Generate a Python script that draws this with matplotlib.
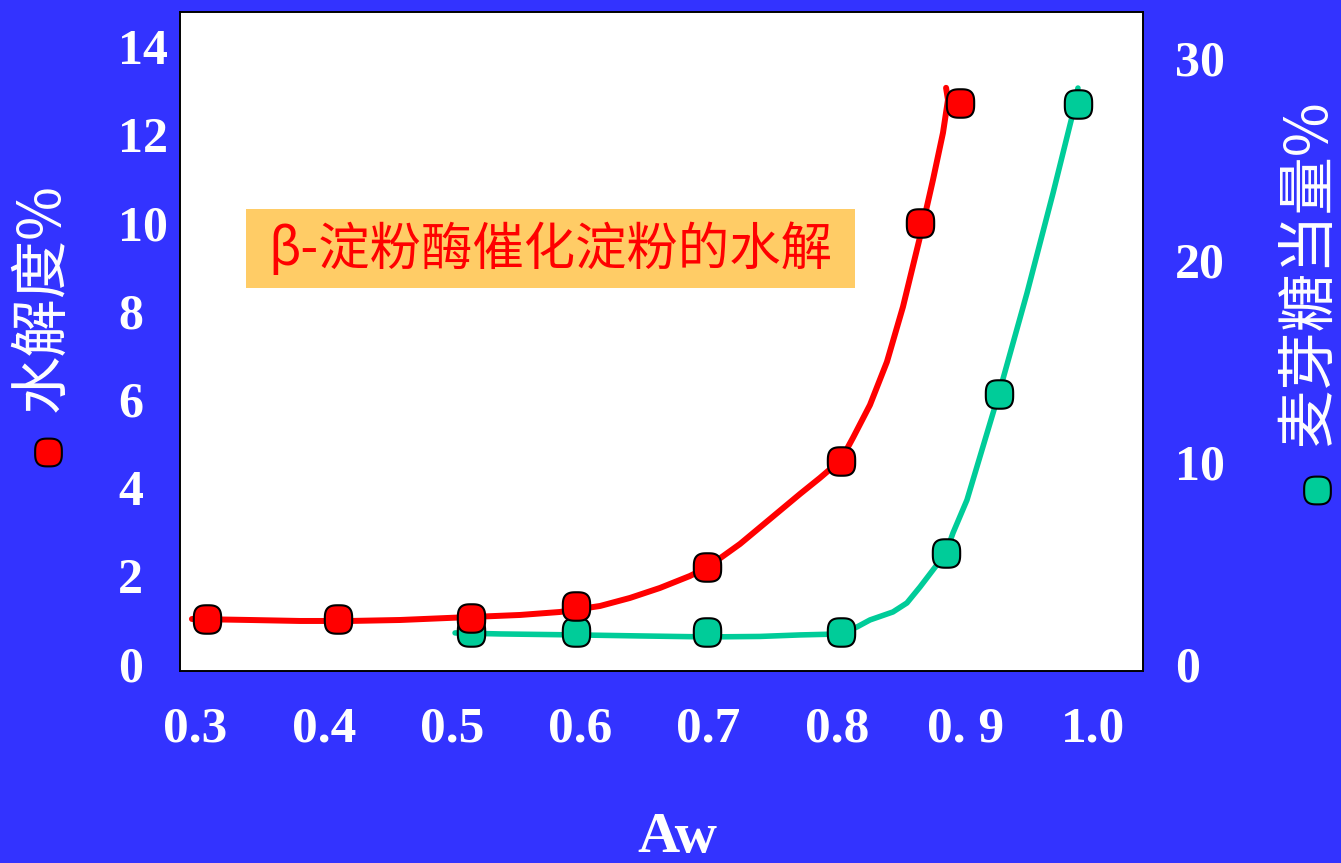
import numpy as np
import matplotlib
matplotlib.use("Agg")
import matplotlib.pyplot as plt
from matplotlib.path import Path
from matplotlib.patches import Rectangle

# ---------------- data ----------------
red_x = [0.309, 0.411, 0.515, 0.597, 0.699, 0.803, 0.865, 0.896]
red_y = [1.02, 1.02, 1.04, 1.32, 2.20, 4.61, 10.01, 12.73]

green_x = [0.515, 0.597, 0.699, 0.803, 0.885, 0.926, 0.988]
green_y = [1.58, 1.58, 1.58, 1.58, 5.50, 13.37, 27.72]

red_curve_x = [0.2973, 0.3426, 0.3815, 0.4205, 0.4595, 0.5148, 0.5530, 0.5842,
               0.6154, 0.6387, 0.6621, 0.6855, 0.6995, 0.7245, 0.7479, 0.7713,
               0.7868, 0.8032, 0.8125, 0.8258, 0.8390, 0.8515, 0.8648, 0.8749,
               0.8827, 0.8866, 0.8851]
red_curve_y = [1.021, 0.998, 0.976, 0.976, 0.998, 1.066, 1.112, 1.180,
               1.316, 1.498, 1.725, 1.997, 2.201, 2.723, 3.290, 3.858,
               4.221, 4.629, 5.128, 5.877, 6.853, 8.101, 9.689, 10.983,
               12.049, 12.798, 13.070]

green_curve_x = [0.5024, 0.5375, 0.5975, 0.6465, 0.6995, 0.7400, 0.7713, 0.8032,
                 0.8157, 0.8258, 0.8437, 0.8546, 0.8648, 0.8749, 0.8850, 0.8905,
                 0.9014, 0.9264, 0.9482, 0.9685, 0.9840, 0.9879]
green_curve_y = [1.535, 1.485, 1.436, 1.386, 1.337, 1.361, 1.436, 1.485,
                 1.832, 2.178, 2.574, 3.020, 3.812, 4.653, 5.495, 6.485,
                 8.119, 13.416, 18.366, 23.317, 27.277, 28.515]

x_ticks = [0.3, 0.4, 0.5, 0.6, 0.7, 0.8, 0.9, 1.0]
x_tick_labels = ["0.3", "0.4", "0.5", "0.6", "0.7", "0.8", "0. 9", "1.0"]
left_ticks = [0, 2, 4, 6, 8, 10, 12, 14]
right_ticks = [0, 10, 20, 30]

title_text = "β-淀粉酶催化淀粉的水解"
left_label = "水解度%"
right_label = "麦芽糖当量%"
x_label = "Aw"

# ---------------- style ----------------
BG = "#3333FF"
RED = "#FF0000"
GREEN = "#00CC99"
BOX = "#FFCC66"
CJK = ["Noto Sans CJK SC", "DejaVu Sans"]
SERIF = "Liberation Serif"

# rounded-square marker (superellipse outline)
t = np.linspace(0, 2 * np.pi, 100)
n = 3.0
mx = np.sign(np.cos(t)) * np.abs(np.cos(t)) ** (2 / n)
my = np.sign(np.sin(t)) * np.abs(np.sin(t)) ** (2 / n)
verts = np.column_stack([mx, my * 1.04])
rsq = Path(np.vstack([verts, verts[:1]]), closed=True)

fig = plt.figure(figsize=(13.41, 8.63), dpi=100, facecolor=BG)
ax = fig.add_axes([180 / 1341, 1 - 671 / 863, (1143 - 180) / 1341, (671 - 12) / 863])
ax2 = ax.twinx()

ax2.set_zorder(1)
ax.set_zorder(2)
ax.patch.set_visible(False)
ax2.patch.set_facecolor("white")
ax2.patch.set_visible(True)

ax2.plot(green_curve_x, green_curve_y, color=GREEN, lw=4.0, solid_capstyle="round",
         solid_joinstyle="round", zorder=2)
ax2.plot(green_x, green_y, ls="none", marker=rsq, ms=20.5, mfc=GREEN, mec="black",
         mew=1.5, zorder=3)

ax.plot(red_curve_x, red_curve_y, color=RED, lw=4.3, solid_capstyle="round",
        solid_joinstyle="round", zorder=2)
ax.plot(red_x, red_y, ls="none", marker=rsq, ms=20.5, mfc=RED, mec="black",
        mew=1.5, zorder=3)

ax.set_xlim(0.288, 1.0386)
ax.set_ylim(-0.159, 14.79)
ax2.set_ylim(-0.35, 32.28)

for a in (ax, ax2):
    for s in a.spines.values():
        s.set_color("black")
        s.set_linewidth(1.2)

ax.set_xticks(x_ticks)
ax.set_xticklabels(x_tick_labels)
ax.set_yticks(left_ticks)
ax.set_yticklabels([str(v) for v in left_ticks])
ax2.set_yticks(right_ticks)
ax2.set_yticklabels([str(v) for v in right_ticks])

ax.tick_params(axis="x", length=0, pad=25.5, colors="white", labelsize=37)
ax.tick_params(axis="y", length=0, pad=44.6, colors="white", labelsize=36)
ax2.tick_params(axis="y", length=0, pad=23, colors="white", labelsize=36)
for lab in ax.get_xticklabels() + ax.get_yticklabels() + ax2.get_yticklabels():
    lab.set_fontfamily(SERIF)
    lab.set_fontweight("bold")
    lab.set_color("white")
for lab in ax.get_yticklabels():
    lab.set_horizontalalignment("left")

# axis titles
fig.text(677 / 1341, 1 - 852 / 863, x_label, color="white", fontsize=42,
         fontfamily=SERIF, fontweight="bold", ha="center", va="baseline")
fig.text(42 / 1341, 1 - 298 / 863, left_label, color="white", fontsize=42,
         family=CJK, rotation=90, ha="center", va="center")
fig.text(1308 / 1341, 1 - 272 / 863, right_label, color="white", fontsize=42,
         family=CJK, rotation=90, ha="center", va="center")

# legend-like dots beside axis titles
fig.lines.append(plt.Line2D([48 / 1341], [1 - 452 / 863], transform=fig.transFigure,
                            ls="none", marker=rsq, ms=20, mfc=RED, mec="black", mew=1.5))
fig.lines.append(plt.Line2D([1317 / 1341], [1 - 490 / 863], transform=fig.transFigure,
                            ls="none", marker=rsq, ms=20, mfc=GREEN, mec="black", mew=1.5))

# title box
fig.patches.append(Rectangle((246 / 1341, 1 - 288 / 863), 609 / 1341, 79 / 863,
                             transform=fig.transFigure, facecolor=BOX,
                             edgecolor="none", zorder=5))
fig.text(550 / 1341, 1 - 250 / 863, title_text, color=RED, fontsize=37, family=CJK,
         ha="center", va="center", zorder=6)

fig.savefig("out.png", dpi=100, facecolor=BG)
